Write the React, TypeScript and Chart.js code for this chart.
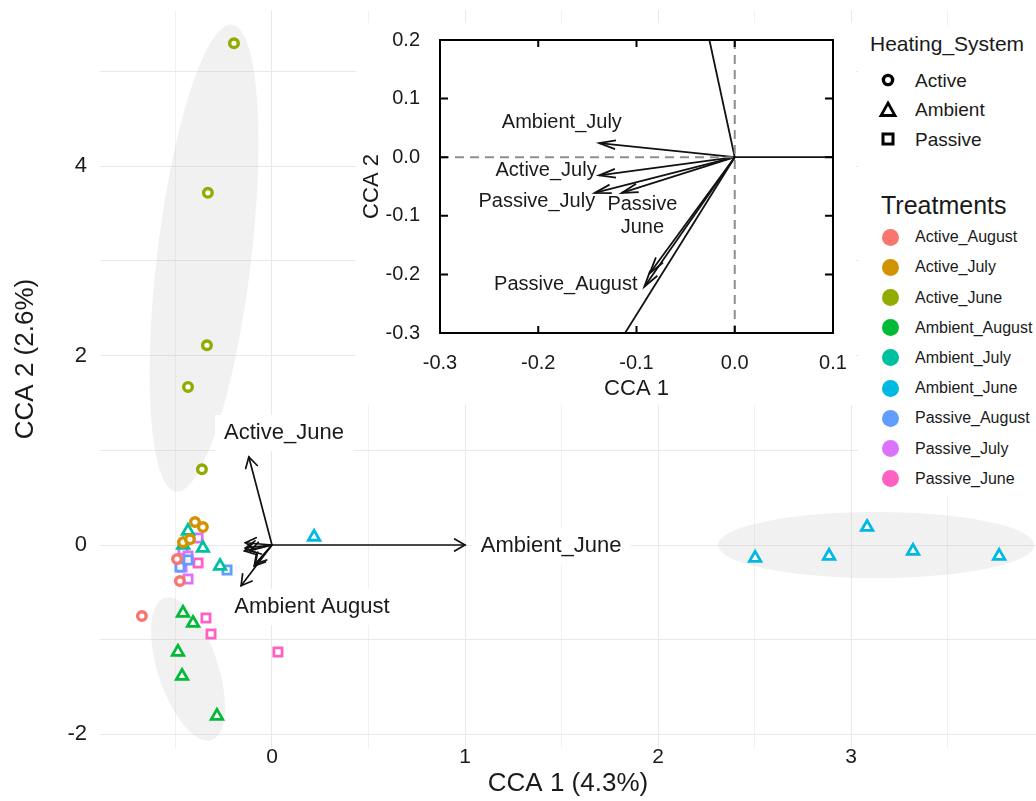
import React, { useEffect, useRef } from "react";
import { Chart, registerables } from "chart.js";
Chart.register(...registerables);

const FONT = "'Liberation Sans', Arial, Helvetica, sans-serif";
const INK = "#1a1a1a";

// ---- legend / series definitions ----
const treatmentNames = [
  "Active_August", "Active_July", "Active_June",
  "Ambient_August", "Ambient_July", "Ambient_June",
  "Passive_August", "Passive_July", "Passive_June",
];
const treatmentColors = [
  "#F8766D", "#D39200", "#93AA00",
  "#00BA38", "#00C19F", "#00B9E3",
  "#619CFF", "#DB72FB", "#FF61C3",
];
const heatingNames = ["Active", "Ambient", "Passive"];
const heatingShapes = ["circle", "triangle", "rect"];
const treatmentHeating = [0, 0, 0, 1, 1, 1, 2, 2, 2];

// ---- site scores [CCA1, CCA2] ----
const activeAugust = [[-0.674, -0.75], [-0.492, -0.148], [-0.477, -0.38]];
const activeJuly = [[-0.399, 0.243], [-0.358, 0.19], [-0.461, 0.03], [-0.425, 0.06]];
const activeJune = [[-0.197, 5.3], [-0.332, 3.72], [-0.337, 2.11], [-0.435, 1.67], [-0.363, 0.8]];
const ambientAugust = [[-0.461, -0.718], [-0.409, -0.824], [-0.487, -1.13], [-0.466, -1.384], [-0.285, -1.806]];
const ambientJuly = [[-0.435, 0.148], [-0.358, -0.032], [-0.269, -0.222], [-0.46, 0.0]];
const ambientJune = [[0.218, 0.085], [2.503, -0.137], [2.886, -0.116], [3.083, 0.19], [3.321, -0.063], [3.767, -0.116]];
const passiveAugust = [[-0.233, -0.264], [-0.477, -0.232], [-0.435, -0.158]];
const passiveJuly = [[-0.383, 0.074], [-0.461, -0.053], [-0.435, -0.116], [-0.466, -0.232], [-0.435, -0.359]];
const passiveJune = [[-0.383, -0.19], [-0.342, -0.771], [-0.316, -0.94], [0.031, -1.13]];
const siteScores = [
  activeAugust, activeJuly, activeJune,
  ambientAugust, ambientJuly, ambientJune,
  passiveAugust, passiveJuly, passiveJune,
];

// ---- biplot arrows (environmental vectors) ----
const arrowNames = treatmentNames;
const arrowCCA1 = [-0.0865, -0.138, -0.12, -0.16, -0.138, 1.0, -0.092, -0.1425, -0.115];
const arrowCCA2 = [-0.198, -0.031, 0.93, -0.43, 0.024, 0.0, -0.221, -0.061, -0.061];

// ---- arrow labels ----
const mainLabelText = ["Active_June", "Ambient_June", "Ambient August"];
const mainLabelX = [0.062, 1.446, 0.207];
const mainLabelY = [1.183, -0.01, -0.655];

const insetLabelText = ["Ambient_July", "Active_July", "Passive_July", "Passive\nJune", "Passive_August"];
const insetLabelX = [-0.176, -0.192, -0.2015, -0.094, -0.172];
const insetLabelY = [0.06, -0.022, -0.075, -0.101, -0.218];

// ---- confidence ellipses: centre, half-axis A, half-axis B (data units) ----
const ellipseCenter = [[-0.352, 3.03], [-0.435, -1.31], [3.13, 0.0]];
const ellipseAxisA = [[0.145, 2.466], [0.122, -0.75], [0.819, 0.0]];
const ellipseAxisB = [[0.2418, -0.059], [0.1475, 0.099], [0.0, 0.349]];

// ---- axes ----
const mainXRange = [-0.891, 3.958];
const mainYRange = [-2.144, 5.651];
const insetXRange = [-0.3, 0.1];
const insetYRange = [-0.3, 0.2];
const mainXTitle = "CCA 1 (4.3%)";
const mainYTitle = "CCA 2 (2.6%)";

function drawArrow(ctx: CanvasRenderingContext2D, x0: number, y0: number, x1: number, y1: number, head: number, ang: number) {
  ctx.beginPath();
  ctx.moveTo(x0, y0);
  ctx.lineTo(x1, y1);
  ctx.stroke();
  const a = Math.atan2(y1 - y0, x1 - x0);
  ctx.beginPath();
  ctx.moveTo(x1 - head * Math.cos(a - ang), y1 - head * Math.sin(a - ang));
  ctx.lineTo(x1, y1);
  ctx.lineTo(x1 - head * Math.cos(a + ang), y1 - head * Math.sin(a + ang));
  ctx.stroke();
}

const zeroPad = (s: any) => {
  s.paddingTop = 0;
  s.paddingBottom = 0;
  s.paddingLeft = 0;
  s.paddingRight = 0;
};

const mainDecor = {
  id: "mainDecor",
  beforeDatasetsDraw(chart: any) {
    const { ctx, chartArea: ca, scales } = chart;
    const sx = scales.x, sy = scales.y;
    ctx.save();
    ctx.beginPath();
    ctx.rect(ca.left, ca.top, ca.right - ca.left, ca.bottom - ca.top);
    ctx.clip();
    ctx.fillStyle = "rgba(190,190,190,0.22)";
    ellipseCenter.forEach((c, i) => {
      const A = ellipseAxisA[i], B = ellipseAxisB[i];
      ctx.beginPath();
      for (let k = 0; k <= 120; k++) {
        const t = (k / 120) * Math.PI * 2;
        const px = sx.getPixelForValue(c[0] + A[0] * Math.cos(t) + B[0] * Math.sin(t));
        const py = sy.getPixelForValue(c[1] + A[1] * Math.cos(t) + B[1] * Math.sin(t));
        if (k === 0) ctx.moveTo(px, py); else ctx.lineTo(px, py);
      }
      ctx.closePath();
      ctx.fill();
    });
    ctx.restore();
  },
  afterDatasetsDraw(chart: any) {
    const { ctx, scales } = chart;
    const sx = scales.x, sy = scales.y;
    const ox = sx.getPixelForValue(0), oy = sy.getPixelForValue(0);
    ctx.save();
    ctx.strokeStyle = "#111";
    ctx.lineWidth = 1.7;
    ctx.lineCap = "round";
    arrowNames.forEach((_, i) => {
      drawArrow(ctx, ox, oy, sx.getPixelForValue(arrowCCA1[i]), sy.getPixelForValue(arrowCCA2[i]), 12, Math.PI / 6);
    });
    ctx.font = `22px ${FONT}`;
    ctx.textAlign = "center";
    ctx.textBaseline = "middle";
    mainLabelText.forEach((t, i) => {
      const px = sx.getPixelForValue(mainLabelX[i]);
      const py = sy.getPixelForValue(mainLabelY[i]);
      const w = ctx.measureText(t).width;
      ctx.fillStyle = "#ffffff";
      ctx.fillRect(px - w / 2 - 9, py - 18, w + 18, 36);
      ctx.fillStyle = INK;
      ctx.fillText(t, px, py);
    });
    ctx.restore();
  },
  afterDraw(chart: any) {
    // y-axis title, placed slightly above the centre of the panel as in the original figure
    const { ctx, chartArea: ca } = chart;
    ctx.save();
    ctx.translate(26, (ca.top + ca.bottom) / 2 - 20);
    ctx.rotate(-Math.PI / 2);
    ctx.font = `26px ${FONT}`;
    ctx.fillStyle = INK;
    ctx.textAlign = "center";
    ctx.textBaseline = "middle";
    ctx.fillText(mainYTitle, 0, 0);
    ctx.restore();
  },
};

const insetDecor = {
  id: "insetDecor",
  afterDatasetsDraw(chart: any) {
    const { ctx, chartArea: ca, scales } = chart;
    const sx = scales.x, sy = scales.y;
    const ox = sx.getPixelForValue(0), oy = sy.getPixelForValue(0);
    ctx.save();
    ctx.beginPath();
    ctx.rect(ca.left, ca.top, ca.right - ca.left, ca.bottom - ca.top);
    ctx.clip();
    // arrows
    ctx.strokeStyle = "#111";
    ctx.lineWidth = 1.8;
    arrowNames.forEach((_, i) => {
      drawArrow(ctx, ox, oy, sx.getPixelForValue(arrowCCA1[i]), sy.getPixelForValue(arrowCCA2[i]), 17, Math.PI / 12);
    });
    // dashed zero lines
    ctx.strokeStyle = "rgba(130,130,130,0.9)";
    ctx.lineWidth = 2;
    ctx.setLineDash([9, 6]);
    ctx.beginPath();
    ctx.moveTo(ca.left, oy); ctx.lineTo(ox - 2, oy);
    ctx.moveTo(ox, ca.top); ctx.lineTo(ox, ca.bottom);
    ctx.stroke();
    ctx.setLineDash([]);
    ctx.restore();
    // labels
    ctx.save();
    ctx.font = `20px ${FONT}`;
    ctx.fillStyle = INK;
    ctx.textAlign = "center";
    ctx.textBaseline = "middle";
    insetLabelText.forEach((t, i) => {
      const lines = t.split("\n");
      const px = sx.getPixelForValue(insetLabelX[i]);
      const py = sy.getPixelForValue(insetLabelY[i]);
      lines.forEach((ln, j) => {
        ctx.fillText(ln, px, py + (j - (lines.length - 1) / 2) * 23);
      });
    });
    // frame + inward ticks
    ctx.strokeStyle = "#000";
    ctx.lineWidth = 2;
    ctx.strokeRect(ca.left, ca.top, ca.right - ca.left, ca.bottom - ca.top);
    ctx.beginPath();
    sx.ticks.forEach((tk: any) => {
      const px = sx.getPixelForValue(tk.value);
      ctx.moveTo(px, ca.bottom); ctx.lineTo(px, ca.bottom - 7);
      ctx.moveTo(px, ca.top); ctx.lineTo(px, ca.top + 7);
    });
    sy.ticks.forEach((tk: any) => {
      const py = sy.getPixelForValue(tk.value);
      ctx.moveTo(ca.left, py); ctx.lineTo(ca.left + 8, py);
      ctx.moveTo(ca.right, py); ctx.lineTo(ca.right - 8, py);
    });
    ctx.stroke();
    ctx.restore();
  },
};

const fmt1 = (v: any) => (Math.abs(Number(v)) < 1e-9 ? 0 : Number(v)).toFixed(1);

function Legend() {
  const items = treatmentNames.map((n, i) => (
    <div key={n} style={{ position: "absolute", left: 0, top: 237 + 30.2 * i - 10, height: 20, width: 178 }}>
      <div style={{ position: "absolute", left: 24, top: 1.5, width: 17, height: 17, borderRadius: "50%", background: treatmentColors[i] }} />
      <div style={{ position: "absolute", left: 57, top: 10 - 0.49 * 16, font: `16px ${FONT}`, lineHeight: "16px", color: INK, whiteSpace: "nowrap" }}>{n}</div>
    </div>
  ));
  const shapeIcon = (k: number) => {
    if (k === 0) return <circle cx={10} cy={10} r={4.6} fill="none" stroke="#000" strokeWidth={3.4} />;
    if (k === 1) return <polygon points="10,3 17,15.5 3,15.5" fill="none" stroke="#000" strokeWidth={2.8} strokeLinejoin="miter" />;
    return <rect x={5} y={5} width={10} height={10} fill="none" stroke="#000" strokeWidth={3} />;
  };
  const heat = heatingNames.map((n, k) => (
    <div key={n} style={{ position: "absolute", left: 0, top: 80 + 29.5 * k - 10, height: 20, width: 178 }}>
      <svg width={20} height={20} style={{ position: "absolute", left: 20, top: 0 }}>{shapeIcon(k)}</svg>
      <div style={{ position: "absolute", left: 57, top: 10 - 0.49 * 19, font: `19px ${FONT}`, lineHeight: "19px", color: INK, whiteSpace: "nowrap" }}>{n}</div>
    </div>
  ));
  return (
    <div style={{ position: "absolute", left: 858, top: 0, width: 178, height: 500 }}>
      <div style={{ position: "absolute", left: 0, top: 26, width: 178, height: 470, background: "#ffffff" }} />
      <div style={{ position: "absolute", left: 12, top: 44 - 0.49 * 22, font: `21px ${FONT}`, lineHeight: "22px", color: INK, whiteSpace: "nowrap" }}>Heating_System</div>
      {heat}
      <div style={{ position: "absolute", left: 23, top: 205 - 0.49 * 25, font: `25px ${FONT}`, lineHeight: "25px", color: INK, whiteSpace: "nowrap" }}>Treatments</div>
      {items}
    </div>
  );
}

export default function App() {
  const mainRef = useRef<HTMLCanvasElement>(null);
  const insetRef = useRef<HTMLCanvasElement>(null);

  useEffect(() => {
    const datasets = siteScores.map((pts, i) => {
      const h = treatmentHeating[i];
      return {
        label: treatmentNames[i],
        data: pts.map(([x, y]) => ({ x, y })),
        pointStyle: heatingShapes[h],
        pointRadius: [4.3, 6.6, 5.8][h],
        pointBorderWidth: [3.4, 2.8, 2.8][h],
        borderColor: treatmentColors[i],
        pointBorderColor: treatmentColors[i],
        backgroundColor: "rgba(255,255,255,0.85)",
        pointBackgroundColor: "rgba(255,255,255,0.85)",
        showLine: false,
      };
    });
    const gridColor = (c: any) => {
      const v = c.tick ? c.tick.value : 0;
      return Math.abs(v - Math.round(v)) < 1e-9 ? "#e9e9e9" : "#f1f1f1";
    };
    const main = new Chart(mainRef.current as HTMLCanvasElement, {
      type: "scatter",
      data: { datasets: datasets as any },
      options: {
        responsive: false,
        animation: false,
        devicePixelRatio: 1,
        layout: { autoPadding: false, padding: { top: 10, right: 0, left: 0, bottom: 0 } },
        plugins: { legend: { display: false }, tooltip: { enabled: false } },
        scales: {
          x: {
            type: "linear",
            min: mainXRange[0],
            max: mainXRange[1],
            border: { display: false },
            grid: { color: gridColor, lineWidth: 1, drawTicks: false },
            ticks: {
              stepSize: 0.5,
              includeBounds: false,
              autoSkip: false,
              maxRotation: 0,
              padding: -3,
              color: INK,
              font: { family: FONT, size: 21 },
              callback: (v: any) => (Number.isInteger(Number(v)) ? String(v) : ""),
            },
            title: { display: true, text: mainXTitle, color: INK, font: { family: FONT, size: 26 }, padding: { top: 0, bottom: 2 } },
            afterFit: (s: any) => { s.height = 53; zeroPad(s); },
          },
          y: {
            type: "linear",
            min: mainYRange[0],
            max: mainYRange[1],
            border: { display: false },
            grid: { color: gridColor, lineWidth: 1, drawTicks: false },
            ticks: {
              stepSize: 1,
              includeBounds: false,
              autoSkip: false,
              padding: 13,
              color: INK,
              font: { family: FONT, size: 22 },
              callback: (v: any) => (Number(v) % 2 === 0 ? String(v) : ""),
            },
            title: { display: false, text: mainYTitle },
            afterFit: (s: any) => { s.width = 100; zeroPad(s); },
          },
        },
      } as any,
      plugins: [mainDecor],
    });

    const inset = new Chart(insetRef.current as HTMLCanvasElement, {
      type: "scatter",
      data: { datasets: [{ label: "vectors", data: [] }] },
      options: {
        responsive: false,
        animation: false,
        devicePixelRatio: 1,
        layout: { autoPadding: false, padding: { top: 17, right: 23, left: 0, bottom: 0 } },
        plugins: { legend: { display: false }, tooltip: { enabled: false } },
        scales: {
          x: {
            type: "linear",
            min: insetXRange[0],
            max: insetXRange[1],
            border: { display: false },
            grid: { display: false },
            ticks: { stepSize: 0.1, autoSkip: false, maxRotation: 0, padding: 10, color: INK, font: { family: FONT, size: 20 }, callback: fmt1 },
            title: { display: true, text: "CCA 1", color: INK, font: { family: FONT, size: 22 }, padding: { top: 0, bottom: 3 } },
            afterFit: (s: any) => { s.height = 72; zeroPad(s); },
          },
          y: {
            type: "linear",
            min: insetYRange[0],
            max: insetYRange[1],
            border: { display: false },
            grid: { display: false },
            ticks: { stepSize: 0.1, autoSkip: false, padding: 12, color: INK, font: { family: FONT, size: 20 }, callback: fmt1 },
            title: { display: true, text: "CCA 2", color: INK, font: { family: FONT, size: 22 }, padding: { top: 3, bottom: 0 } },
            afterFit: (s: any) => { s.width = 84; zeroPad(s); },
          },
        },
      } as any,
      plugins: [insetDecor],
    });

    return () => {
      main.destroy();
      inset.destroy();
    };
  }, []);

  return (
    <div style={{ position: "absolute", left: 0, top: 0, width: 1036, height: 801, background: "#fff", overflow: "hidden" }}>
      <canvas ref={mainRef} width={1036} height={801} style={{ position: "absolute", left: 0, top: 0 }} />
      <canvas ref={insetRef} width={500} height={382} style={{ position: "absolute", left: 356, top: 23, background: "#fff" }} />
      <Legend />
    </div>
  );
}
